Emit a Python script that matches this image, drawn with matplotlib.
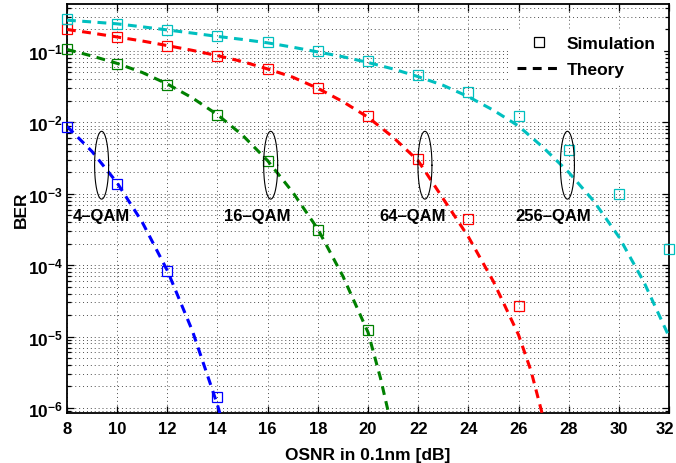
import matplotlib
matplotlib.use("Agg")
import matplotlib.pyplot as plt
import numpy as np
from matplotlib.lines import Line2D
from matplotlib.ticker import FixedLocator, FuncFormatter, NullFormatter
from matplotlib.transforms import ScaledTranslation

plt.rcParams["font.family"] = ["Liberation Sans", "DejaVu Sans"]
plt.rcParams["font.weight"] = "bold"
plt.rcParams["mathtext.fontset"] = "custom"
plt.rcParams["mathtext.rm"] = "Liberation Sans:bold"
plt.rcParams["mathtext.bf"] = "Liberation Sans:bold"

# simulation points (squares)
sim_x_4 = [8, 10, 12, 14]
sim_4 = [8.5e-3, 1.37e-3, 8.4e-5, 1.42e-6]
sim_x_16 = [8, 10, 12, 14, 16, 18, 20]
sim_16 = [0.105, 0.065, 0.0337, 0.0126, 2.9e-3, 3.15e-4, 1.23e-5]
sim_x_64 = [8, 10, 12, 14, 16, 18, 20, 22, 24, 26]
sim_64 = [0.2, 0.155, 0.119, 0.086, 0.056, 0.030, 0.0121, 3.1e-3, 4.5e-4, 2.7e-5]
sim_x_256 = [8, 10, 12, 14, 16, 18, 20, 22, 24, 26, 28, 30, 32]
sim_256 = [0.28, 0.24, 0.197, 0.162, 0.134, 0.1, 0.072, 0.046, 0.0265,
           0.0122, 4.1e-3, 9.9e-4, 1.66e-4]

# theory curves (dashed)
th_x_4 = [8, 9, 10, 11, 12, 13, 14, 14.5]
th_4 = [8.8e-3, 3.9e-3, 1.42e-3, 4.0e-4, 8.4e-5, 1.2e-5, 1.1e-6, 2.6e-7]
th_x_16 = [8, 9, 10, 11, 12, 13, 14, 15, 16, 17, 18, 19, 20, 20.5, 21]
th_16 = [0.105, 0.085, 0.067, 0.050, 0.0345, 0.022, 0.0128, 6.6e-3, 2.9e-3,
         1.05e-3, 3.2e-4, 7.0e-5, 1.15e-5, 2.6e-6, 4.5e-7]
th_x_64 = [8, 9, 10, 11, 12, 13, 14, 15, 16, 17, 18, 19, 20, 21, 22, 23,
           24, 25, 26, 26.5, 27]
th_64 = [0.2, 0.178, 0.157, 0.138, 0.119, 0.102, 0.086, 0.071, 0.056, 0.043,
         0.030, 0.0195, 0.0118, 6.2e-3, 2.9e-3, 8.5e-4, 2.5e-4, 5.9e-5,
         1.06e-5, 3.3e-6, 7e-7]
th_x_256 = list(range(8, 33))
th_256 = [0.27, 0.255, 0.24, 0.218, 0.197, 0.178, 0.16, 0.145, 0.13, 0.113,
          0.097, 0.083, 0.069, 0.056, 0.0437, 0.033, 0.0229, 0.0148, 8.9e-3,
          4.4e-3, 2.0e-3, 7.9e-4, 2.5e-4, 5.8e-5, 1.0e-5]

labels = ["4–QAM", "16–QAM", "64–QAM", "256–QAM"]
label_x = [9.38, 15.6, 21.76, 27.4]
ellipse_x = [9.38, 16.12, 22.27, 27.95]

colors = ["#0000ff", "#008000", "#ff0000", "#00bfbf"]

fig = plt.figure(figsize=(6.76, 4.64), dpi=100)
ax = fig.add_axes([67 / 676, 1 - 414 / 464, 602 / 676, 409 / 464])

dash = (0, (2.9, 2.1))
series = [
    (sim_x_4, sim_4, th_x_4, th_4),
    (sim_x_16, sim_16, th_x_16, th_16),
    (sim_x_64, sim_64, th_x_64, th_64),
    (sim_x_256, sim_256, th_x_256, th_256),
]
for (sx, sy, tx, ty), c in zip(series, colors):
    ax.plot(sx, sy, ls="none", marker="s", ms=7.2, mfc="none", mec=c,
            mew=0.9, zorder=3, clip_on=False)
    ax.plot(tx, ty, ls=dash, color=c, lw=2.2, zorder=4)

ax.set_yscale("log")
ax.set_xlim(8, 32)
ax.set_ylim(8.5e-7, 0.455)

# ellipses around each curve, drawn in log space so they stay elliptical
t = np.linspace(0, 2 * np.pi, 200)
for ex in ellipse_x:
    ax.plot(ex + 0.28 * np.cos(t), 10 ** (-2.6 + 0.475 * np.sin(t)),
            color="black", lw=0.8, zorder=5)
for lx, txt in zip(label_x, labels):
    ax.text(lx, 5.0e-4, txt, ha="center", va="center", fontsize=12,
            fontweight="bold", zorder=6)

ax.xaxis.set_major_locator(FixedLocator(np.arange(8, 33, 2)))
ax.yaxis.set_major_locator(FixedLocator([10.0 ** k for k in range(-6, 0)]))
ax.yaxis.set_major_formatter(
    FuncFormatter(lambda v, _: r"$\mathbf{10^{%d}}$" % round(np.log10(v))))
minors = [m * 10.0 ** k for k in range(-7, 0) for m in range(2, 10)]
ax.yaxis.set_minor_locator(FixedLocator(minors))
ax.yaxis.set_minor_formatter(NullFormatter())

ax.tick_params(which="both", direction="in", top=True, right=True,
               width=0.9, color="black")
ax.tick_params(axis="x", labelsize=12)
ax.tick_params(axis="y", labelsize=12.5)
ax.tick_params(which="major", length=5, pad=6)
ax.tick_params(axis="y", which="major", pad=3)
ax.tick_params(which="minor", length=3)
for lab in ax.get_xticklabels() + ax.get_yticklabels():
    lab.set_fontweight("bold")

# last x label sits on the figure edge; nudge it left so it is not cut
last = ax.xaxis.get_major_ticks()[-1].label1
last.set_transform(last.get_transform() + ScaledTranslation(-4 / 100, 0, fig.dpi_scale_trans))

grid_style = dict(color="0.3", linestyle=(0, (1, 3)), linewidth=0.7)
ax.grid(True, which="major", **grid_style)
ax.yaxis.grid(True, which="minor", **grid_style)
ax.set_axisbelow(True)
for sp in ax.spines.values():
    sp.set_linewidth(1.3)

ax.set_xlabel("OSNR in 0.1nm [dB]", fontsize=12.5, fontweight="bold", labelpad=8)
ax.set_ylabel("BER", fontsize=12.5, fontweight="bold", labelpad=-1)

handles = [
    Line2D([], [], ls="none", marker="s", ms=7.2, mfc="none", mec="black", mew=0.9),
    Line2D([], [], ls=dash, color="black", lw=2.2),
]
leg = ax.legend(handles, ["Simulation", "Theory"], loc="upper right",
                bbox_to_anchor=(1.007, 0.965),
                prop={"weight": "bold", "size": 12.5}, frameon=True,
                fancybox=False, edgecolor="white", facecolor="white",
                framealpha=1, handlelength=2.5, handletextpad=0.35,
                borderaxespad=0.6, labelspacing=0.62)
leg.set_zorder(10)

fig.savefig("out.png", dpi=100)
